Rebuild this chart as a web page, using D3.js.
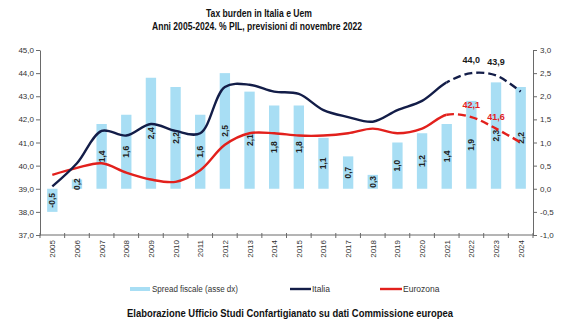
<!DOCTYPE html>
<html>
<head>
<meta charset="utf-8">
<script src="https://cdn.jsdelivr.net/npm/d3@7/dist/d3.min.js"></script>
<style>
  html, body { margin: 0; padding: 0; background: #fff; }
  svg { display: block; font-family: "Liberation Sans", Arial, sans-serif; }
</style>
</head>
<body>
<svg id="chart" width="580" height="326"></svg>
<script>
// Pressione fiscale (% PIL), Italia vs Eurozona, con spread fiscale
const years = ["2005","2006","2007","2008","2009","2010","2011","2012","2013","2014",
               "2015","2016","2017","2018","2019","2020","2021","2022","2023","2024"];
const italia   = [39.1, 40.1, 41.5, 41.3, 41.8, 41.5, 41.4, 43.4, 43.5, 43.2,
                  43.1, 42.4, 42.1, 41.9, 42.4, 42.8, 43.6, 44.0, 43.9, 43.2];
const eurozona = [39.6, 39.9, 40.1, 39.7, 39.4, 39.3, 39.8, 40.9, 41.4, 41.4,
                  41.3, 41.3, 41.4, 41.6, 41.4, 41.6, 42.2, 42.1, 41.6, 41.0];
const spread   = [-0.5, 0.2, 1.4, 1.6, 2.4, 2.2, 1.6, 2.5, 2.1, 1.8,
                  1.8, 1.1, 0.7, 0.3, 1.0, 1.2, 1.4, 1.9, 2.3, 2.2];
const leftTicks  = [37, 38, 39, 40, 41, 42, 43, 44, 45];
const rightTicks = [-1, -0.5, 0, 0.5, 1, 1.5, 2, 2.5, 3];
const forecastFrom = "2021";
const labelledYears = ["2022", "2023"];

const title = "Tax burden in Italia e Uem";
const subtitle = "Anni 2005-2024. % PIL, previsioni di novembre 2022";
const source = "Elaborazione Ufficio Studi Confartigianato su dati Commissione europea";

const colBar = "#a8def4", colIta = "#131d48", colEur = "#e2201c", colAxis = "#6a6a6a", colText = "#333";

const itLocale = d3.formatLocale({decimal: ",", thousands: ".", grouping: [3], currency: ["", "€"], minus: "-"});
const f1 = itLocale.format(".1f");

const svg = d3.select("#chart");
const plotLeft = 40, plotRight = 533, plotTop = 50, plotBottom = 235;

const x = d3.scaleBand().domain(years).range([plotLeft, plotRight]);
const yL = d3.scaleLinear().domain([37, 45]).range([plotBottom, plotTop]);
const yR = d3.scaleLinear().domain([-1, 3]).range([plotBottom, plotTop]);
const cx = d => x(d) + x.bandwidth() / 2;

// Titles
svg.append("text").attr("x", 259).attr("y", 17).attr("text-anchor", "middle")
  .attr("font-size", 10.5).attr("font-weight", "bold").attr("fill", "#111")
  .attr("textLength", 106).attr("lengthAdjust", "spacingAndGlyphs").text(title);
svg.append("text").attr("x", 257).attr("y", 30).attr("text-anchor", "middle")
  .attr("font-size", 10.5).attr("font-weight", "bold").attr("fill", "#111")
  .attr("textLength", 210).attr("lengthAdjust", "spacingAndGlyphs").text(subtitle);

// Spread bars (right axis)
const bw = x.bandwidth() * 0.42;
svg.append("g").selectAll("rect").data(years).join("rect")
  .attr("x", (d) => cx(d) - bw / 2)
  .attr("width", bw)
  .attr("y", (d, i) => yR(Math.max(0, spread[i])))
  .attr("height", (d, i) => Math.abs(yR(spread[i]) - yR(0)))
  .attr("fill", colBar);

// Bar value labels, rotated
svg.append("g").selectAll("text").data(years).join("text")
  .attr("transform", (d, i) => `translate(${cx(d) + 3},${(yR(spread[i]) + yR(0)) / 2}) rotate(-90)`)
  .attr("text-anchor", "middle")
  .attr("font-size", 8.5).attr("font-weight", "bold").attr("fill", "#222")
  .text((d, i) => f1(spread[i]));

// Lines: solid up to the forecast start, dashed afterwards
const fx = cx(forecastFrom);
const defs = svg.append("defs");
defs.append("clipPath").attr("id", "pastClip").append("rect")
  .attr("x", 0).attr("y", 0).attr("width", fx).attr("height", 326);
defs.append("clipPath").attr("id", "futClip").append("rect")
  .attr("x", fx).attr("y", 0).attr("width", 580 - fx).attr("height", 326);

const line = d3.line().x((d, i) => cx(years[i])).y(d => yL(d)).curve(d3.curveCatmullRom.alpha(0.5));

[[eurozona, colEur], [italia, colIta]].forEach(([vals, col]) => {
  svg.append("path").attr("d", line(vals)).attr("fill", "none")
    .attr("stroke", col).attr("stroke-width", 2.4).attr("clip-path", "url(#pastClip)");
  svg.append("path").attr("d", line(vals)).attr("fill", "none")
    .attr("stroke", col).attr("stroke-width", 2.4).attr("stroke-dasharray", "8,4")
    .attr("clip-path", "url(#futClip)");
});

// Forecast value labels
labelledYears.forEach(yr => {
  const i = years.indexOf(yr);
  svg.append("text").attr("x", cx(yr)).attr("y", yL(italia[i]) - 10)
    .attr("text-anchor", "middle").attr("font-size", 9).attr("font-weight", "bold")
    .attr("fill", "#1a1a1a").text(f1(italia[i]));
  svg.append("text").attr("x", cx(yr)).attr("y", yL(eurozona[i]) - 9)
    .attr("text-anchor", "middle").attr("font-size", 9).attr("font-weight", "bold")
    .attr("fill", colEur).text(f1(eurozona[i]));
});

// Axes
const gl = svg.append("g").attr("transform", `translate(${plotLeft},0)`)
  .call(d3.axisLeft(yL).tickValues(leftTicks).tickFormat(f1).tickSize(4).tickSizeOuter(0));
const gr = svg.append("g").attr("transform", `translate(${plotRight},0)`)
  .call(d3.axisRight(yR).tickValues(rightTicks).tickFormat(f1).tickSize(4).tickSizeOuter(0));
[gl, gr].forEach(g => {
  g.select(".domain").attr("stroke", colAxis);
  g.selectAll(".tick line").attr("stroke", colAxis);
  g.selectAll(".tick text").attr("font-size", 8).attr("fill", colText)
    .attr("font-family", "Liberation Sans, Arial, sans-serif");
});
gl.selectAll(".tick text").attr("x", -6);
gr.selectAll(".tick text").attr("x", 7);

// Category axis
const gx = svg.append("g");
gx.append("line").attr("x1", plotLeft).attr("x2", plotRight).attr("y1", plotBottom).attr("y2", plotBottom).attr("stroke", colAxis);
gx.selectAll("line.tk").data(years.concat(["end"])).join("line").attr("class", "tk")
  .attr("x1", (d, i) => plotLeft + i * x.bandwidth()).attr("x2", (d, i) => plotLeft + i * x.bandwidth())
  .attr("y1", plotBottom - 2).attr("y2", plotBottom + 3).attr("stroke", colAxis);
gx.selectAll("text").data(years).join("text")
  .attr("transform", d => `translate(${cx(d) + 3},${plotBottom + 5}) rotate(-90)`)
  .attr("text-anchor", "end").attr("font-size", 8).attr("fill", colText).text(d => d);

// Legend
const lg = svg.append("g").attr("font-size", 8.5).attr("fill", colText);
lg.append("rect").attr("x", 130).attr("y", 287).attr("width", 20).attr("height", 4).attr("fill", colBar);
lg.append("text").attr("x", 152).attr("y", 292).attr("textLength", 86).attr("lengthAdjust", "spacingAndGlyphs").text("Spread fiscale (asse dx)");
lg.append("line").attr("x1", 290).attr("x2", 311).attr("y1", 289).attr("y2", 289).attr("stroke", colIta).attr("stroke-width", 2.4);
lg.append("text").attr("x", 312).attr("y", 292).text("Italia");
lg.append("line").attr("x1", 380).attr("x2", 402).attr("y1", 289).attr("y2", 289).attr("stroke", colEur).attr("stroke-width", 2.4);
lg.append("text").attr("x", 403).attr("y", 292).text("Eurozona");

// Source
svg.append("text").attr("x", 290).attr("y", 317).attr("text-anchor", "middle")
  .attr("font-size", 10.5).attr("font-weight", "bold").attr("fill", "#111")
  .attr("textLength", 326).attr("lengthAdjust", "spacingAndGlyphs").text(source);
</script>
</body>
</html>
